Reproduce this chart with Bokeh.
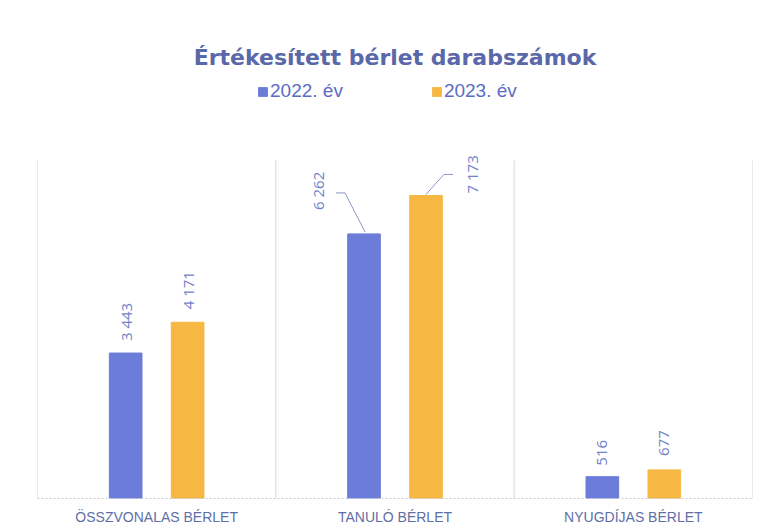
import math
from bokeh.plotting import figure
from bokeh.models import (ColumnDataSource, Range1d, FactorRange, Legend, LegendItem, Label)
from bokeh.core.properties import value
from bokeh.embed import file_html
from bokeh.resources import INLINE

# ---- data ----
categories = ["ÖSSZVONALAS BÉRLET", "TANULÓ BÉRLET", "NYUGDÍJAS BÉRLET"]
series_names = ["2022. év", "2023. év"]
values_2022 = [3443, 6262, 516]
values_2023 = [4171, 7173, 677]
title_text = "Értékesített bérlet darabszámok"

# ---- style ----
BLUE = "#6b7cd9"
ORANGE = "#f6b843"
TEXT_BLUE = "#7282c8"
TITLE_COL = "#5a67a8"
CAT_COL = "#5f6fa6"

W, H = 758, 528
BL, BR, BT, BB = 37, 6, 30, 30
FRAME_W = W - BL - BR
FRAME_H = H - BT - BB
VALUE_MAX = 8000            # value at the top of the separators
VALUE_PX = 338              # px height of the value area
px_x = FRAME_W / len(categories)
px_y = VALUE_PX / VALUE_MAX
Y_TOP = FRAME_H / px_y      # extra room above for title + legend

p = figure(width=W, height=H, x_range=FactorRange(*categories), y_range=Range1d(0, Y_TOP),
           output_backend="svg", toolbar_location=None, y_axis_location=None,
           min_border_left=BL, min_border_right=BR, min_border_top=BT, min_border_bottom=BB)
p.outline_line_color = None
p.xgrid.visible = False
p.ygrid.visible = False
p.background_fill_color = "white"
p.border_fill_color = "white"

DODGE = 0.13
BAR_W = 0.137

def fmt(v):
    return f"{v:,}".replace(",", " ")

xs22 = [i + 0.5 - DODGE for i in range(len(categories))]
xs23 = [i + 0.5 + DODGE for i in range(len(categories))]

# category separators
sep_x = list(range(len(categories) + 1))
p.segment(x0=sep_x, y0=[0] * len(sep_x), x1=sep_x, y1=[VALUE_MAX] * len(sep_x),
          line_color="#d3d6e4", line_width=1)

r22 = p.vbar(x=xs22, top=values_2022, width=BAR_W, fill_color=BLUE, line_color=BLUE)
r23 = p.vbar(x=xs23, top=values_2023, width=BAR_W, fill_color=ORANGE, line_color=ORANGE)

# data labels (rotated); screen offsets in px (dx right, dy up from bar top)
lab_dx_22 = [0, -46, 0]
lab_dy_22 = [12, 24, 11]
lab_dx_23 = [0, 46, 0]
lab_dy_23 = [13, 2, 14]

lx, ly, lt, ldx, ldy = [], [], [], [], []
for xs, vals, dxs, dys in ((xs22, values_2022, lab_dx_22, lab_dy_22),
                           (xs23, values_2023, lab_dx_23, lab_dy_23)):
    for x, v, dx, dy in zip(xs, vals, dxs, dys):
        lx.append(x); ly.append(v); lt.append(fmt(v)); ldx.append(dx); ldy.append(-dy)
src = ColumnDataSource(dict(x=lx, y=ly, t=lt, dx=ldx, dy=ldy))
p.text(x="x", y="y", text="t", x_offset="dx", y_offset="dy", angle=math.pi / 2,
       text_align="left", text_baseline="middle", text_font_size="15px",
       text_font=value("Open Sans"), text_color=TEXT_BLUE, source=src)

# leader lines for the offset labels (Tanuló)
leaders = [
    (xs22[1], values_2022[1], [(-28, 41), (-19, 41), (1, 2)]),
    (xs23[1], values_2023[1], [(27, 21), (18, 21), (0, 1)]),
]
mxs, mys = [], []
for x0, y0, pts in leaders:
    mxs.append([x0 + dx / px_x for dx, dy in pts])
    mys.append([y0 + dy / px_y for dx, dy in pts])
p.multi_line(xs=mxs, ys=mys, line_color="#8a96c8", line_width=1)

# x axis
ax = p.xaxis[0]
ax.axis_line_color = "#c8cad6"
ax.axis_line_dash = "2 2"
ax.major_tick_line_color = None
ax.minor_tick_line_color = None
ax.major_tick_out = 0
ax.major_tick_in = 0
ax.major_label_standoff = 10
ax.major_label_text_font = "Liberation Sans"
ax.major_label_text_font_size = "14px"
ax.major_label_text_color = CAT_COL

# title (inside the frame's upper free area)
title_y = (H - BB - 57) / px_y
p.add_layout(Label(x=len(categories) / 2, y=title_y, text=title_text, text_align="center",
                   text_baseline="middle", text_font="DejaVu Sans", text_font_style="bold",
                   text_font_size="22px", text_color=TITLE_COL))

# legend
legend = Legend(items=[LegendItem(label=series_names[0], renderers=[r22]),
                       LegendItem(label=series_names[1], renderers=[r23])],
                orientation="horizontal", location=(220, H - BB - 102),
                glyph_width=11, glyph_height=11, label_standoff=2, spacing=88,
                padding=0, margin=0, border_line_color=None, background_fill_alpha=0,
                label_text_font="Liberation Sans", label_text_font_size="19px",
                label_text_color="#5b6cc4", label_height=20)
p.add_layout(legend, "center")

open("out.html", "w").write(file_html(p, INLINE))
